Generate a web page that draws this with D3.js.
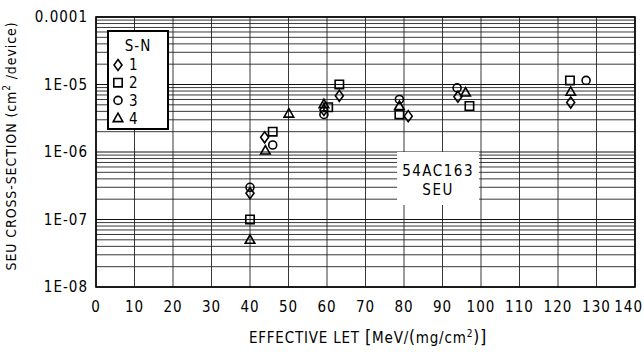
<!DOCTYPE html>
<html>
<head>
<meta charset="utf-8">
<script src="https://cdn.jsdelivr.net/npm/d3@7"></script>
<style>
  body { margin: 0; background: #fff; }
  text { font-family: "Liberation Sans Narrow", "DejaVu Sans Condensed", sans-serif; fill: #000; }
</style>
</head>
<body>
<svg id="svg1" width="644" height="352"></svg>
<script>
// data: [LET, cross-section]
var series1 = [[40, 2.45e-7], [43.8, 1.65e-6], [59.2, 4.2e-6], [63.2, 6.8e-6], [81.1, 3.4e-6], [94.0, 6.6e-6], [123.3, 5.4e-6]];
var series2 = [[40, 1.0e-7], [45.9, 2.0e-6], [60.3, 4.6e-6], [63.2, 1.0e-5], [78.8, 3.6e-6], [97.0, 4.8e-6], [123.1, 1.15e-5]];
var series3 = [[40, 3.0e-7], [45.9, 1.27e-6], [59.2, 3.6e-6], [78.8, 6.0e-6], [93.8, 8.9e-6], [127.3, 1.15e-5]];
var series4 = [[40, 5.0e-8], [44.0, 1.05e-6], [50.1, 3.7e-6], [59.2, 5.1e-6], [78.8, 4.8e-6], [96.0, 7.6e-6], [123.3, 7.8e-6]];
var seriesNames = ['1', '2', '3', '4'];
var xTicks = [0, 10, 20, 30, 40, 50, 60, 70, 80, 90, 100, 110, 120, 130, 140];
var yTicks = [1e-8, 1e-7, 1e-6, 1e-5, 1e-4];
var yTickLabels = ['1E-08', '1E-07', '1E-06', '1E-05', '0.0001'];

var marginLeft = 96, marginTop = 17, marginRight = 9, marginBottom = 65;
var width = 644 - marginLeft - marginRight;
var height = 352 - marginTop - marginBottom;

var svg = d3.select('#svg1')
    .append('g')
    .attr('transform', 'translate(' + marginLeft + ',' + marginTop + ')');

var scaleX = d3.scaleLinear().domain([0, 140]).range([0, width]);
var scaleY = d3.scaleLog().domain([1e-8, 1e-4]).range([height, 0]);

// minor log grid (2..9 in every decade)
var minor = [];
yTicks.slice(0, 4).forEach(function(d) {
    for (var k = 2; k <= 9; k++) minor.push(d * k);
});

svg.selectAll('.hgrid-minor')
    .data(minor)
    .enter().append('line')
    .attr('class', 'hgrid-minor')
    .attr('x1', 0).attr('x2', width)
    .attr('y1', function(d) { return scaleY(d); })
    .attr('y2', function(d) { return scaleY(d); })
    .attr('stroke', '#222').attr('stroke-width', 0.9);

svg.selectAll('.hgrid')
    .data(yTicks)
    .enter().append('line')
    .attr('class', 'hgrid')
    .attr('x1', 0).attr('x2', width)
    .attr('y1', function(d) { return scaleY(d); })
    .attr('y2', function(d) { return scaleY(d); })
    .attr('stroke', '#111').attr('stroke-width', 1);

svg.selectAll('.vgrid')
    .data(xTicks)
    .enter().append('line')
    .attr('class', 'vgrid')
    .attr('x1', function(d) { return scaleX(d); })
    .attr('x2', function(d) { return scaleX(d); })
    .attr('y1', 0).attr('y2', height)
    .attr('stroke', '#222').attr('stroke-width', 0.9);

// frame
svg.append('rect')
    .attr('x', 0).attr('y', 0)
    .attr('width', width).attr('height', height)
    .attr('fill', 'none')
    .attr('stroke', '#000').attr('stroke-width', 1.6);

// y axis labels
svg.selectAll('.ylab')
    .data(yTicks)
    .enter().append('text')
    .attr('class', 'ylab')
    .attr('x', -8)
    .attr('y', function(d) { return scaleY(d); })
    .attr('dy', '0.35em')
    .attr('text-anchor', 'end')
    .style('font-size', '15px')
    .style('letter-spacing', '1px')
    .text(function(d, i) { return yTickLabels[i]; });

// x axis labels (last one pulled in so it stays on the page)
svg.selectAll('.xlab')
    .data(xTicks)
    .enter().append('text')
    .attr('class', 'xlab')
    .attr('x', function(d, i) { return i === xTicks.length - 1 ? width + 8 : scaleX(d); })
    .attr('y', height + 25)
    .attr('text-anchor', function(d, i) { return i === xTicks.length - 1 ? 'end' : 'middle'; })
    .style('font-size', '15px')
    .style('letter-spacing', '1px')
    .text(function(d) { return d; });

// axis titles
var xt = svg.append('text')
    .attr('x', 272)
    .attr('y', height + 56)
    .attr('text-anchor', 'middle')
    .style('font-size', '15px')
    .style('letter-spacing', '0.8px');
xt.append('tspan').text('EFFECTIVE LET ');
xt.append('tspan').style('font-size', '18px').text('[');
xt.append('tspan').text('MeV/');
xt.append('tspan').style('font-size', '17px').text('(');
xt.append('tspan').text('mg/cm');
xt.append('tspan').attr('dy', -6).style('font-size', '10px').text('2');
xt.append('tspan').attr('dy', 6).style('font-size', '17px').text(')');
xt.append('tspan').style('font-size', '18px').text(']');

var yt = svg.append('text')
    .attr('transform', 'translate(' + (-80) + ',' + (height / 2 - 6) + ') rotate(-90)')
    .attr('text-anchor', 'middle')
    .style('font-size', '14px')
    .style('letter-spacing', '0.9px');
yt.append('tspan').text('SEU CROSS-SECTION (cm');
yt.append('tspan').attr('dy', -6).style('font-size', '10px').text('2');
yt.append('tspan').attr('dy', 6).text(' /device)');

// annotation box
var annX0 = scaleX(78.2), annX1 = scaleX(99.5);
svg.append('rect')
    .attr('x', annX0).attr('y', 135)
    .attr('width', annX1 - annX0).attr('height', 53)
    .attr('fill', '#fff');
svg.append('text')
    .attr('x', (annX0 + annX1) / 2).attr('y', 159)
    .attr('text-anchor', 'middle')
    .style('font-size', '15px').style('letter-spacing', '1.5px')
    .text('54AC163');
svg.append('text')
    .attr('x', (annX0 + annX1) / 2).attr('y', 178)
    .attr('text-anchor', 'middle')
    .style('font-size', '15px').style('letter-spacing', '1.5px')
    .text('SEU');

// marker shapes
var diamond = { draw: function(ctx) {
    ctx.moveTo(0, -5.5); ctx.lineTo(4, 0); ctx.lineTo(0, 5.5); ctx.lineTo(-4, 0); ctx.closePath();
} };
var square = { draw: function(ctx) {
    ctx.moveTo(-4.2, -4.2); ctx.lineTo(4.2, -4.2); ctx.lineTo(4.2, 4.2); ctx.lineTo(-4.2, 4.2); ctx.closePath();
} };
var circle = { draw: function(ctx) {
    ctx.moveTo(4, 0); ctx.arc(0, 0, 4, 0, 2 * Math.PI);
} };
var triangle = { draw: function(ctx) {
    ctx.moveTo(0, -5); ctx.lineTo(4.8, 3.5); ctx.lineTo(-4.8, 3.5); ctx.closePath();
} };
var shapes = [diamond, square, circle, triangle];
var allSeries = [series1, series2, series3, series4];

allSeries.forEach(function(s, i) {
    svg.selectAll('.pt' + i)
        .data(s)
        .enter().append('path')
        .attr('class', 'pt' + i)
        .attr('transform', function(d) { return 'translate(' + scaleX(d[0]) + ',' + scaleY(d[1]) + ')'; })
        .attr('d', d3.symbol().type(shapes[i]))
        .attr('fill', 'none')
        .attr('stroke', '#000')
        .attr('stroke-width', 1.6);
});

// legend
var legend = svg.append('g').attr('transform', 'translate(12,14)');
legend.append('rect')
    .attr('x', 0).attr('y', 0)
    .attr('width', 60).attr('height', 98)
    .attr('fill', '#fff')
    .attr('stroke', '#000').attr('stroke-width', 2);
legend.append('text')
    .attr('x', 30).attr('y', 20)
    .attr('text-anchor', 'middle')
    .style('font-size', '15px').style('letter-spacing', '1px')
    .text('S-N');
seriesNames.forEach(function(n, i) {
    var yy = 34 + i * 17.7;
    legend.append('path')
        .attr('transform', 'translate(10,' + yy + ')')
        .attr('d', d3.symbol().type(shapes[i]))
        .attr('fill', 'none')
        .attr('stroke', '#000')
        .attr('stroke-width', 1.6);
    legend.append('text')
        .attr('x', 21).attr('y', yy)
        .attr('dy', '0.36em')
        .style('font-size', '15px')
        .text(n);
});
</script>
</body>
</html>
